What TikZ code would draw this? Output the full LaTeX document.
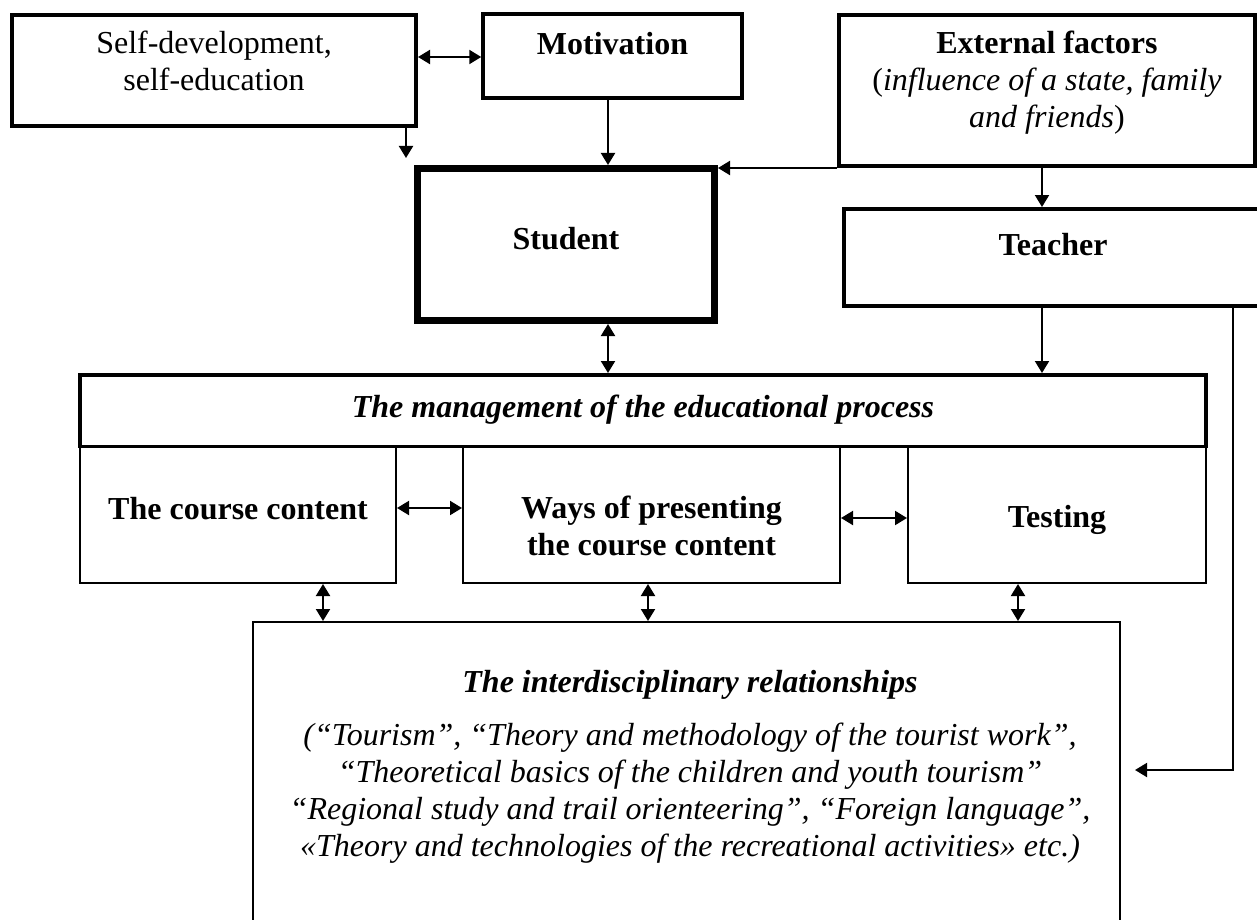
\documentclass[tikz,border=0pt]{standalone}
\usepackage{fontspec}
\setmainfont{Liberation Serif}
\usetikzlibrary{arrows.meta}
\begin{document}
\begin{tikzpicture}[x=1pt,y=-1pt,
  >={Triangle[length=12pt,width=14pt]},
  every node/.style={font=\fontsize{32}{37}\selectfont},
  box/.style={draw, rectangle, inner sep=0pt, anchor=center},
  thickbox/.style={box, line width=4pt},
  thinbox/.style={box, line width=2pt},
  txt/.style={anchor=base, align=center, inner sep=0pt},
  arr/.style={->, line width=2pt},
  darr/.style={<->, line width=2pt}]
\useasboundingbox (0,0) rectangle (1257,920);
\clip (0,0) rectangle (1257,920);

% helper coordinates for connector positions
\coordinate (h57) at (0,57);
\coordinate (h508) at (0,508);
\coordinate (h518) at (0,518);
\coordinate (h770) at (0,770);
\coordinate (v323) at (323,0);
\coordinate (v406) at (406,0);
\coordinate (v608) at (608,0);
\coordinate (v648) at (648,0);
\coordinate (v1018) at (1018,0);
\coordinate (v1042) at (1042,0);
\coordinate (v1233) at (1233,0);
\coordinate (sdend) at (406,158);

% boxes
\node[thickbox, minimum width=404pt, minimum height=111pt] (sd) at (214,70.5) {};
\node[box, line width=3.5pt, minimum width=259pt, minimum height=84pt] (mot) at (612.5,56) {};
\node[box, line width=7pt, minimum width=297pt, minimum height=152pt] (stu) at (566,244.5) {};
\node[thickbox, minimum width=416pt, minimum height=151pt] (ext) at (1047,90.5) {};
\node[thickbox, minimum width=426pt, minimum height=97pt] (tea) at (1057,257.5) {};
\node[thinbox, minimum width=316pt, minimum height=136pt] (course) at (238,515) {};
\node[thinbox, minimum width=377pt, minimum height=136pt] (ways) at (651.5,515) {};
\node[thinbox, minimum width=298pt, minimum height=136pt] (test) at (1057,515) {};
\node[box, line width=3.5pt, minimum width=1126pt, minimum height=71.5pt] (mgmt) at (643,410.5) {};
\node[thinbox, minimum width=867pt, minimum height=338pt] (inter) at (686.5,791) {};

% texts (base anchor = baseline of the last line)
\node[txt] (sdt) at (214,91) {Self-development,\\self-education};
\node[txt] (mott) at (612.5,55) {\textbf{Motivation}};
\node[txt] (stut) at (566,249) {\textbf{Student}};
\node[txt] (extt) at (1047,128) {\textbf{External factors}\\(\textit{influence of a state, family}\\\textit{and friends})};
\node[txt] (teat) at (1053,255) {\textbf{Teacher}};
\node[txt] (mgmtt) at (643,417) {\textbf{\textit{The management of the educational process}}};
\node[txt] (coursett) at (238,519) {\textbf{The course content}};
\node[txt] (wayst) at (651.5,555) {\textbf{Ways of presenting}\\\textbf{the course content}};
\node[txt] (testt) at (1057,527) {\textbf{Testing}};
\node[txt] (intert) at (690,692) {\textbf{\textit{The interdisciplinary relationships}}};
\node[txt] (interl) at (690,856) {\textit{(“Tourism”, “Theory and methodology of the tourist work”,}\\
\textit{“Theoretical basics of the children and youth tourism”}\\
\textit{“Regional study and trail orienteering”, “Foreign language”,}\\
\textit{«Theory and technologies of the recreational activities» etc.)}};

% connectors
\draw[darr] (sd.east |- h57) -- (mot.west |- h57);
\draw[arr] (v608 |- mot.south) -- (v608 |- stu.north);
\draw[arr] (v406 |- sd.south) -- (sdend);
\draw[arr] (ext.south west) -- (stu.east |- ext.south west);
\draw[arr] (v1042 |- ext.south) -- (v1042 |- tea.north);
\draw[arr] (v1042 |- tea.south) -- (v1042 |- mgmt.north);
\draw[arr, shorten >=14pt] (v1233 |- tea.south) -- (v1233 |- h770) -- (inter.east |- h770);
\draw[darr] (v608 |- stu.south) -- (v608 |- mgmt.north);
\draw[darr] (course.east |- h508) -- (ways.west |- h508);
\draw[darr] (ways.east |- h518) -- (test.west |- h518);
\draw[darr] (v323 |- course.south) -- (v323 |- inter.north);
\draw[darr] (v648 |- ways.south) -- (v648 |- inter.north);
\draw[darr] (v1018 |- test.south) -- (v1018 |- inter.north);
\end{tikzpicture}
\end{document}
